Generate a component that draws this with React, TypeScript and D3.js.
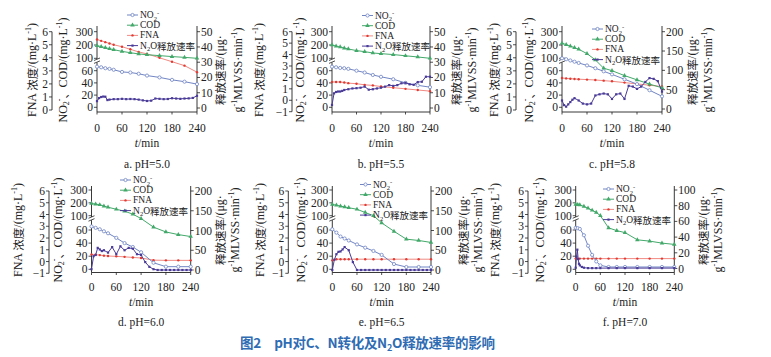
import React from 'react';
import * as d3 from 'd3';

// ---------- data ----------
const T_MAIN = [0, 10, 20, 30, 40, 60, 80, 100, 120, 150, 180, 210, 240];
const T_N2O = [0, 5, 10, 15, 20, 25, 30, 40, 50, 60, 70, 80, 90, 100, 110, 120, 130, 140, 150, 160, 170, 180, 190, 200, 210, 220, 230, 240];
const T_F = [0, 5, 10, 20, 30, 40, 50, 60, 80, 100, 120, 150, 180, 210, 240];
const T_F_N2O = [0, 2, 4, 6, 8, 10, 15, 20, 30, 40, 50, 60, 80, 100, 120, 150, 180, 210, 240];

const NO2_A = [73, 71, 68, 66, 63, 58, 57, 55, 52, 49, 45, 42, 38];
const COD_A = [195, 188, 180, 172, 165, 152, 142, 133, 127, 120, 113, 107, 100];
const FNA_A = [5.4, 5.3, 5.2, 5.1, 5.0, 4.85, 4.65, 4.45, 4.3, 4.0, 3.7, 3.4, 2.9];
const N2O_A = [4.5, 6.5, 7.2, 7.5, 7.4, 5.2, 5.5, 5.8, 5.8, 6.0, 5.8, 5.9, 5.8, 5.5, 5.0, 4.6, 4.8, 6.2, 6.0, 5.8, 5.9, 6.4, 6.2, 6.0, 6.2, 6.3, 6.6, 8.0];

const NO2_B = [73, 71, 69, 68, 66, 60, 57, 53, 50, 46, 40, 36, 33];
const COD_B = [200, 192, 185, 177, 170, 158, 150, 140, 135, 128, 119, 110, 100];
const FNA_B = [1.6, 1.6, 1.6, 1.55, 1.5, 1.45, 1.35, 1.3, 1.2, 1.1, 1.0, 0.9, 0.8];
const N2O_B = [2, 9.6, 10.5, 10.8, 10.8, 11.2, 11.8, 12.3, 12.8, 13, 13.3, 14, 12, 12.3, 12.8, 13.3, 14, 15, 14.5, 15, 16.2, 16.5, 15.5, 15.2, 17, 17.2, 20.5, 20.5];

const NO2_C = [100, 97, 93, 89, 85, 77, 68, 59, 54, 46, 38, 28, 18];
const COD_C = [213, 203, 192, 180, 168, 135, 95, 68, 60, 52, 45, 38, 32];
const FNA_C = [2.45, 2.42, 2.4, 2.38, 2.36, 2.33, 2.3, 2.25, 2.2, 2.1, 2.0, 1.9, 1.8];
const N2O_C = [22, 10, 6, 12, 18, 24, 28, 22, 14, 12, 14, 35, 38, 40, 38, 26, 38, 40, 26, 60, 58, 52, 58, 70, 80, 78, 72, 45];

const NO2_D = [70, 66, 62, 58, 55, 48, 40, 34, 26, 10, 4, 4, 4];
const COD_D = [195, 190, 185, 175, 166, 150, 135, 112, 92, 68, 57, 53, 50];
const FNA_D = [0.6, 0.58, 0.55, 0.5, 0.47, 0.44, 0.4, 0.35, 0.3, 0.12, 0.1, 0.1, 0.1];
const N2O_D = [2, 35, 38, 56, 52, 48, 50, 44, 58, 40, 60, 50, 56, 54, 40, 38, 20, 8, 2, 0, 0, 0, 0, 0, 0, 0, 0, 0];

const NO2_E = [62, 56, 50, 47, 44, 38, 33, 28, 22, 8, 3.5, 3.5, 3.5];
const COD_E = [188, 182, 175, 168, 162, 150, 125, 100, 80, 58, 46, 44, 41];
const FNA_E = [0.1, 0.2, 0.2, 0.2, 0.2, 0.2, 0.2, 0.2, 0.2, 0.2, 0.2, 0.2, 0.2];
const N2O_E = [0, 26, 40, 46, 47, 52, 58, 50, 20, 0, 0, 0, 0, 0, 0, 0, 0, 0, 0, 0, 0, 0, 0, 0, 0, 0, 0, 0];

const NO2_F = [66, 65, 63, 52, 36, 22, 12, 6, 3.5, 3.5, 3.5, 3.5, 3.5, 3.5, 3.5];
const COD_F = [188, 186, 184, 172, 158, 142, 125, 100, 66, 59, 56, 45, 43, 40, 38];
const FNA_F = [0.25, 0.25, 0.25, 0.25, 0.25, 0.25, 0.25, 0.25, 0.25, 0.25, 0.25, 0.25, 0.25, 0.25, 0.25];
const N2O_F = [1, 15, 24, 12, 6, 4, 2, 1, 0.5, 0.5, 0.5, 0.5, 0.5, 0.5, 0.5, 0.5, 0.5, 0.5, 0.5];

const X_TICKS = [0, 60, 120, 180, 240];
const INNER_TICKS = [0, 20, 40, 60, 100, 200, 300];
const FNA_TICKS_0 = [0, 1, 2, 3, 4, 5, 6];
const FNA_TICKS_M1 = [-1, 0, 1, 2, 3, 4, 5, 6];
const R_TICKS_50 = [0, 10, 20, 30, 40, 50];
const R_TICKS_200 = [0, 50, 100, 150, 200];
const R_TICKS_100 = [0, 20, 40, 60, 80, 100];
const PANEL_LABELS = ['a. pH=5.0', 'b. pH=5.5', 'c. pH=5.8', 'd. pH=6.0', 'e. pH=6.5', 'f. pH=7.0'];

// ---------- styling ----------
const C_NO2 = '#7185c4';
const C_COD = '#43a96a';
const C_FNA = '#e23a32';
const C_FNA_LINE = '#f08a83';
const C_N2O = '#4a3b98';
const SERIF = '"Liberation Serif", "Times New Roman", serif';
const CJK = '"Noto Sans CJK SC", sans-serif';
const MIXED = '"Liberation Serif", "Noto Sans CJK SC", serif';

const ROWS = {
  top: { axisTop: 26, axisBottom: 112, innerRange: [107.3, 70.7, 58.3, 31.7], xTickY: 127.5, tLabelY: 147, panelY: 168, labelY: 70 },
  bottom: { axisTop: 186, axisBottom: 272.5, innerRange: [269.3, 230, 215.7, 190], xTickY: 286.5, tLabelY: 306, panelY: 326, labelY: 230 },
};

const PANELS = [
  { row: 'top', no2: NO2_A, cod: COD_A, fna: FNA_A, n2o: N2O_A, t: T_MAIN, tn: T_N2O, fnaX: 52, fnaLabelX: 32, innerLabelX: 63, innerX: 97, rightX: 197, rl1: 220, rl2: 238, legX: 140, legY: 15, fnaDomain: [0, 6], fnaTicks: FNA_TICKS_0, fnaRange: [110, 31.7], rDomain: [0, 50], rTicks: R_TICKS_50, rRange: [108, 31.7] },
  { row: 'top', no2: NO2_B, cod: COD_B, fna: FNA_B, n2o: N2O_B, t: T_MAIN, tn: T_N2O, fnaX: 292, fnaLabelX: 259, innerLabelX: 300, innerX: 332, rightX: 430, rl1: 456, rl2: 472, legX: 375, legY: 15.5, fnaDomain: [-1, 6], fnaTicks: FNA_TICKS_M1, fnaRange: [111.7, 31.7], rDomain: [0, 50], rTicks: R_TICKS_50, rRange: [108, 31.7] },
  { row: 'top', no2: NO2_C, cod: COD_C, fna: FNA_C, n2o: N2O_C, t: T_MAIN, tn: T_N2O, fnaX: 516, fnaLabelX: 494, innerLabelX: 529, innerX: 562, rightX: 662, rl1: 692, rl2: 707.5, legX: 605, legY: 29, fnaDomain: [0, 6], fnaTicks: FNA_TICKS_0, fnaRange: [110, 31.7], rDomain: [0, 200], rTicks: R_TICKS_200, rRange: [109, 31.7] },
  { row: 'bottom', no2: NO2_D, cod: COD_D, fna: FNA_D, n2o: N2O_D, t: T_MAIN, tn: T_N2O, fnaX: 49, fnaLabelX: 18, innerLabelX: 58, innerX: 91.5, rightX: 190.7, rl1: 219.5, rl2: 235, legX: 133, legY: 180, fnaDomain: [-1, 6], fnaTicks: FNA_TICKS_M1, fnaRange: [273.3, 191], rDomain: [0, 200], rTicks: R_TICKS_200, rRange: [270, 191] },
  { row: 'bottom', no2: NO2_E, cod: COD_E, fna: FNA_E, n2o: N2O_E, t: T_MAIN, tn: T_N2O, fnaX: 288.3, fnaLabelX: 260, innerLabelX: 301, innerX: 332.3, rightX: 431, rl1: 463, rl2: 478, legX: 373, legY: 184.5, fnaDomain: [-1, 6], fnaTicks: FNA_TICKS_M1, fnaRange: [273.3, 191], rDomain: [0, 200], rTicks: R_TICKS_200, rRange: [270, 191] },
  { row: 'bottom', no2: NO2_F, cod: COD_F, fna: FNA_F, n2o: N2O_F, t: T_F, tn: T_F_N2O, fnaX: 528, fnaLabelX: 495, innerLabelX: 540, innerX: 575.7, rightX: 674.3, rl1: 703, rl2: 718, legX: 616, legY: 189, fnaDomain: [-1, 6], fnaTicks: FNA_TICKS_M1, fnaRange: [273.3, 191], rDomain: [0, 100], rTicks: R_TICKS_100, rRange: [268.5, 190] },
];

const triangle = d3.symbol().type(d3.symbolTriangle).size(9)() as string;

function Marker({ kind, x, y }: { kind: string; x: number; y: number }) {
  if (kind === 'no2') return <circle cx={x} cy={y} r={1.6} fill="#fff" stroke={C_NO2} strokeWidth={0.8} />;
  if (kind === 'cod') return <path d={triangle} transform={`translate(${x},${y})`} fill={C_COD} />;
  if (kind === 'fna') return <circle cx={x} cy={y} r={1.2} fill={C_FNA} />;
  return <rect x={x - 1.1} y={y - 1.1} width={2.2} height={2.2} fill={C_N2O} />;
}

function Panel({ cfg, idx }: { cfg: any; idx: number }) {
  const row = (ROWS as any)[cfg.row];
  const x = d3.scaleLinear().domain([0, 240]).range([cfg.innerX, cfg.rightX]);
  const yIn = d3.scaleLinear().domain([0, 60, 100, 300]).range(row.innerRange);
  const yF = d3.scaleLinear().domain(cfg.fnaDomain).range(cfg.fnaRange);
  const yR = d3.scaleLinear().domain(cfg.rDomain).range(cfg.rRange);

  const mk = (ts: number[], vs: number[], ys: any) =>
    ts.map((t, i) => [x(t), ys(vs[i])] as [number, number]);
  const lineGen = d3.line();

  const series = [
    { kind: 'fna', pts: mk(cfg.t, cfg.fna, yF), color: C_FNA_LINE },
    { kind: 'cod', pts: mk(cfg.t, cfg.cod, yIn), color: C_COD },
    { kind: 'no2', pts: mk(cfg.t, cfg.no2, yIn), color: C_NO2 },
    { kind: 'n2o', pts: mk(cfg.tn, cfg.n2o, yR), color: C_N2O },
  ];

  const breakY = yIn(92);
  const tickFont = 11.5;
  const legendItems = ['no2', 'cod', 'fna', 'n2o'];
  const legColor: any = { no2: C_NO2, cod: C_COD, fna: C_FNA_LINE, n2o: C_N2O };
  const midX = (cfg.innerX + cfg.rightX) / 2;

  return (
    <g>
      {/* FNA axis */}
      <line x1={cfg.fnaX} x2={cfg.fnaX} y1={yF(cfg.fnaDomain[0])} y2={yF(6)} stroke="#222" strokeWidth={0.9} />
      {cfg.fnaTicks.map((v: number) => (
        <g key={'f' + v}>
          <line x1={cfg.fnaX - 3} x2={cfg.fnaX} y1={yF(v)} y2={yF(v)} stroke="#222" strokeWidth={0.8} />
          <text x={cfg.fnaX - 4} y={yF(v)} textAnchor="end" dominantBaseline="central" fontSize={tickFont} fontFamily={SERIF} fill="#222">{v < 0 ? '−' + Math.abs(v) : v}</text>
        </g>
      ))}
      <text transform={`translate(${cfg.fnaLabelX},${row.labelY}) rotate(-90)`} textAnchor="middle" dominantBaseline="central" fontSize={12} fontFamily={MIXED} fill="#222">
        <tspan fontFamily={SERIF}>FNA </tspan>
        <tspan fontFamily={CJK} fontSize={11.5}>浓度</tspan>
        <tspan fontFamily={SERIF}>/(mg·L</tspan>
        <tspan fontFamily={SERIF} fontSize={8} dy={-4}>-1</tspan>
        <tspan fontFamily={SERIF} dy={4}>)</tspan>
      </text>

      {/* inner axis */}
      <line x1={cfg.innerX} x2={cfg.innerX} y1={row.axisTop} y2={row.axisBottom} stroke="#222" strokeWidth={0.9} />
      {INNER_TICKS.map((v) => (
        <g key={'i' + v}>
          <line x1={cfg.innerX - 3} x2={cfg.innerX} y1={yIn(v)} y2={yIn(v)} stroke="#222" strokeWidth={0.8} />
          <text x={cfg.innerX - 4} y={yIn(v)} textAnchor="end" dominantBaseline="central" fontSize={tickFont} fontFamily={SERIF} fill="#222">{v}</text>
        </g>
      ))}
      <rect x={cfg.innerX - 3} y={breakY - 1.6} width={6} height={3.2} fill="#fff" />
      <line x1={cfg.innerX - 3} x2={cfg.innerX + 3} y1={breakY - 0.3} y2={breakY - 2.8} stroke="#222" strokeWidth={0.8} />
      <line x1={cfg.innerX - 3} x2={cfg.innerX + 3} y1={breakY + 2.6} y2={breakY + 0.1} stroke="#222" strokeWidth={0.8} />
      <text transform={`translate(${cfg.innerLabelX},${row.labelY}) rotate(-90)`} textAnchor="middle" dominantBaseline="central" fontSize={12} fontFamily={SERIF} fill="#222">
        <tspan>NO</tspan>
        <tspan fontSize={8} dy={3}>2</tspan>
        <tspan fontSize={8} dy={-7}>-</tspan>
        <tspan dy={4} fontFamily={CJK} fontSize={11}>、</tspan>
        <tspan>COD/(mg·L</tspan>
        <tspan fontSize={8} dy={-4}>-1</tspan>
        <tspan dy={4}>)</tspan>
      </text>

      {/* right axis */}
      <line x1={cfg.rightX} x2={cfg.rightX} y1={row.axisTop} y2={row.axisBottom} stroke="#222" strokeWidth={0.9} />
      {cfg.rTicks.map((v: number) => (
        <g key={'r' + v}>
          <line x1={cfg.rightX} x2={cfg.rightX + 3} y1={yR(v)} y2={yR(v)} stroke="#222" strokeWidth={0.8} />
          <text x={cfg.rightX + 4} y={yR(v)} textAnchor="start" dominantBaseline="central" fontSize={tickFont} fontFamily={SERIF} fill="#222">{v}</text>
        </g>
      ))}
      <text transform={`translate(${cfg.rl1},${row.labelY}) rotate(-90)`} textAnchor="middle" dominantBaseline="central" fontSize={12} fill="#222">
        <tspan fontFamily={CJK} fontSize={11.5}>释放速率</tspan>
        <tspan fontFamily={SERIF}>/(μg·</tspan>
      </text>
      <text transform={`translate(${cfg.rl2},${row.labelY}) rotate(-90)`} textAnchor="middle" dominantBaseline="central" fontSize={12} fontFamily={SERIF} fill="#222">
        <tspan>g</tspan>
        <tspan fontSize={8} dy={-4}>-1</tspan>
        <tspan dy={4}>MLVSS·min</tspan>
        <tspan fontSize={8} dy={-4}>-1</tspan>
        <tspan dy={4}>)</tspan>
      </text>

      {/* x axis */}
      <line x1={cfg.innerX} x2={cfg.rightX} y1={row.axisBottom} y2={row.axisBottom} stroke="#222" strokeWidth={0.9} />
      {X_TICKS.map((v) => (
        <g key={'x' + v}>
          <line x1={x(v)} x2={x(v)} y1={row.axisBottom} y2={row.axisBottom + 2.5} stroke="#222" strokeWidth={0.8} />
          <text x={x(v)} y={row.xTickY} textAnchor="middle" dominantBaseline="central" fontSize={tickFont} fontFamily={SERIF} fill="#222">{v}</text>
        </g>
      ))}
      <text x={midX} y={row.tLabelY} textAnchor="middle" fontSize={11.5} fontFamily={SERIF} fill="#222">
        <tspan fontStyle="italic">t</tspan>/min
      </text>
      <text x={midX} y={row.panelY} textAnchor="middle" fontSize={11.5} fontFamily={SERIF} fill="#222">{PANEL_LABELS[idx]}</text>

      {/* series */}
      {series.map((s) => (
        <g key={s.kind}>
          <path d={lineGen(s.pts) as string} fill="none" stroke={s.color} strokeWidth={1} />
          {s.pts.map((p, i) => <Marker key={i} kind={s.kind} x={p[0]} y={p[1]} />)}
        </g>
      ))}

      {/* legend */}
      {legendItems.map((k, i) => {
        const ly = cfg.legY + i * 10.2;
        return (
          <g key={'l' + k}>
            <line x1={cfg.legX - 13} x2={cfg.legX - 2} y1={ly} y2={ly} stroke={legColor[k]} strokeWidth={1} />
            <Marker kind={k} x={cfg.legX - 7.5} y={ly} />
            {k === 'no2' && (
              <text x={cfg.legX} y={ly} dominantBaseline="central" fontSize={9.5} fontFamily={SERIF} fill="#222">
                NO<tspan fontSize={6.5} dy={2.5}>2</tspan><tspan fontSize={6.5} dy={-6}>-</tspan>
              </text>
            )}
            {k === 'cod' && <text x={cfg.legX} y={ly} dominantBaseline="central" fontSize={9.5} fontFamily={SERIF} fill="#222">COD</text>}
            {k === 'fna' && <text x={cfg.legX} y={ly} dominantBaseline="central" fontSize={9.5} fontFamily={SERIF} fill="#222">FNA</text>}
            {k === 'n2o' && (
              <text x={cfg.legX} y={ly} dominantBaseline="central" fontSize={9.5} fontFamily={SERIF} fill="#222">
                N<tspan fontSize={6.5} dy={2.5}>2</tspan><tspan dy={-2.5}>O</tspan><tspan fontFamily={CJK} fontSize={9.5}>释放速率</tspan>
              </text>
            )}
          </g>
        );
      })}
    </g>
  );
}

export default function App() {
  return (
    <svg width={771} height={357} viewBox="0 0 771 357" style={{ position: 'absolute', left: 0, top: 0, background: '#fff' }}>
      <rect width={771} height={357} fill="#fff" />
      {PANELS.map((p, i) => <Panel key={i} cfg={p} idx={i} />)}
      <text x={240} y={348} fontSize={13.5} fontFamily={CJK} fontWeight="bold" fill="#2f6cb3" textLength={255} lengthAdjust="spacing">
        图2　pH对C、N转化及N<tspan fontSize={9} dy={3}>2</tspan><tspan dy={-3}>O释放速率的影响</tspan>
      </text>
    </svg>
  );
}
